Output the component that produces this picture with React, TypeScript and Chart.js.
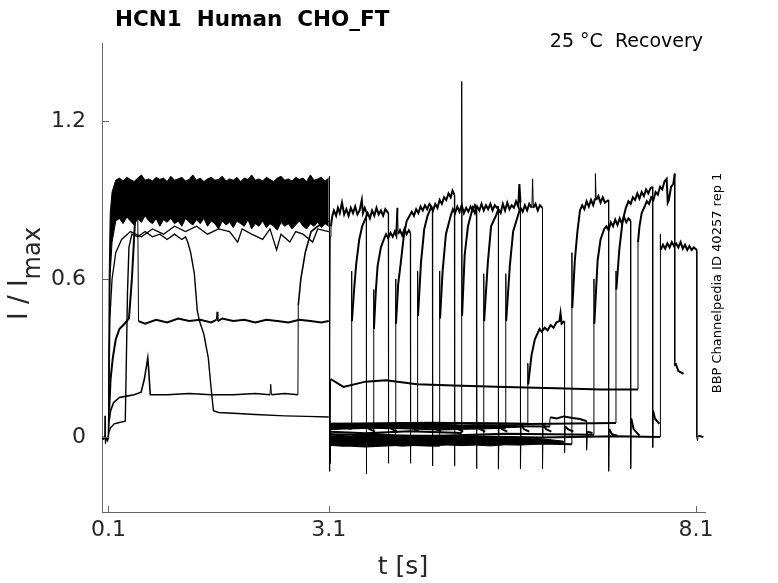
import React, { useEffect, useRef } from 'react';
import { Chart, registerables, ChartConfiguration, Plugin } from 'chart.js';
Chart.register(...registerables);

type Pt = [number, number];
type Edge = [number, number, number];

const xTicks = [0.1, 3.1, 8.1];
const yTicks = [0, 0.6, 1.2];

// holding level before the conditioning step
const holdTrace: Pt[] = [
  [0.015, 0.0], [0.04, -0.01], [0.05, 0.01], [0.055, 0.08], [0.06, -0.025],
  [0.07, 0.0], [0.085, -0.01], [0.1, 0.0],
];

// dense bundle of sweeps during the 3 s step: [t, upper edge, lower edge]
const bandEdges: Edge[] = [
  [0.1, 0.0, 0.0], [0.11, 0.6, 0.3], [0.125, 0.85, 0.62], [0.15, 0.93, 0.74],
  [0.2, 0.975, 0.82], [0.25, 0.983, 0.83], [0.3, 0.972, 0.81], [0.35, 0.986, 0.835],
  [0.4, 0.978, 0.82], [0.45, 0.97, 0.805], [0.5, 0.983, 0.83], [0.55, 0.995, 0.815],
  [0.6, 0.975, 0.84], [0.65, 0.98, 0.82], [0.7, 0.972, 0.81], [0.75, 0.986, 0.83],
  [0.8, 0.978, 0.8], [0.85, 0.983, 0.825], [0.9, 0.97, 0.815], [0.95, 0.99, 0.83],
  [1.0, 0.975, 0.81], [1.05, 0.98, 0.82], [1.1, 0.986, 0.8], [1.15, 0.972, 0.83],
  [1.2, 0.978, 0.815], [1.25, 0.995, 0.805], [1.3, 0.975, 0.825], [1.35, 0.983, 0.81],
  [1.4, 0.97, 0.83], [1.45, 0.98, 0.8], [1.5, 0.986, 0.82], [1.55, 0.975, 0.81],
  [1.6, 0.978, 0.79], [1.65, 0.99, 0.82], [1.7, 0.972, 0.805], [1.75, 0.98, 0.815],
  [1.8, 0.975, 0.795], [1.85, 0.986, 0.82], [1.9, 0.97, 0.81], [1.95, 0.983, 0.8],
  [2.0, 0.978, 0.825], [2.05, 0.995, 0.79], [2.1, 0.975, 0.81], [2.15, 0.98, 0.8],
  [2.2, 0.972, 0.82], [2.25, 0.986, 0.795], [2.3, 0.978, 0.81], [2.35, 0.97, 0.8],
  [2.4, 0.983, 0.785], [2.45, 0.99, 0.815], [2.5, 0.975, 0.8], [2.55, 0.98, 0.81],
  [2.6, 0.972, 0.79], [2.65, 0.986, 0.805], [2.7, 0.978, 0.82], [2.75, 0.983, 0.8],
  [2.8, 0.97, 0.79], [2.85, 0.995, 0.81], [2.9, 0.975, 0.8], [2.95, 0.98, 0.815],
  [3.0, 0.986, 0.795], [3.05, 0.972, 0.81], [3.1, 0.983, 0.8],
];

// dense recovery baselines after the step: two layers [t, upper edge, lower edge]
const recoveryUpper: Edge[] = [
  [3.125, 0.046, 0.031], [3.3, 0.044, 0.033], [3.5, 0.048, 0.032], [3.7, 0.045, 0.034],
  [3.9, 0.047, 0.031], [4.1, 0.044, 0.033], [4.3, 0.048, 0.032], [4.5, 0.045, 0.034],
  [4.7, 0.047, 0.032], [4.9, 0.044, 0.033], [5.1, 0.046, 0.031], [5.3, 0.045, 0.034],
  [5.5, 0.044, 0.035], [5.7, 0.042, 0.037],
];
const recoveryLower: Edge[] = [
  [3.125, 0.004, -0.032], [3.3, 0.001, -0.035], [3.5, 0.005, -0.031], [3.7, 0.0, -0.034],
  [3.9, 0.004, -0.03], [4.1, 0.001, -0.035], [4.3, 0.005, -0.032], [4.5, 0.0, -0.034],
  [4.7, 0.003, -0.03], [4.9, 0.0, -0.033], [5.1, 0.004, -0.031], [5.3, -0.001, -0.034],
  [5.5, 0.002, -0.03], [5.7, -0.002, -0.031], [5.9, -0.005, -0.028], [6.1, -0.01, -0.026],
  [6.3, -0.016, -0.022],
];

const lowEdgeTrace: Pt[] = [
  [0.1, 0.0], [0.12, 0.45], [0.15, 0.6], [0.2, 0.7], [0.28, 0.75], [0.4, 0.78],
  [0.55, 0.76], [0.7, 0.79], [0.85, 0.77], [1.0, 0.8], [1.15, 0.78], [1.3, 0.8],
  [1.45, 0.77], [1.6, 0.79], [1.75, 0.78], [1.86, 0.74], [1.92, 0.79], [2.05, 0.77],
  [2.2, 0.75], [2.3, 0.79], [2.39, 0.71], [2.45, 0.77], [2.57, 0.74], [2.65, 0.78],
  [2.75, 0.77], [2.88, 0.74], [2.95, 0.79], [3.1, 0.78],
];

const slowTrace: Pt[] = [
  [0.1, 0.0], [0.11, 0.1], [0.13, 0.22], [0.16, 0.3], [0.2, 0.37], [0.25, 0.41],
  [0.32, 0.43], [0.38, 0.45], [0.42, 0.6], [0.47, 0.86], [0.5, 0.85], [0.51, 0.44],
  [0.6, 0.43], [0.75, 0.445], [0.9, 0.435], [1.05, 0.45], [1.2, 0.44], [1.35, 0.445],
  [1.5, 0.435], [1.57, 0.445], [1.58, 0.475], [1.59, 0.44], [1.65, 0.45], [1.8, 0.44],
  [1.95, 0.445], [2.1, 0.435], [2.25, 0.445], [2.4, 0.44], [2.55, 0.435], [2.7, 0.445],
  [2.85, 0.44], [3.0, 0.435], [3.1, 0.44],
];

const stepTrace: Pt[] = [
  [0.1, 0.0], [0.11, 0.06], [0.13, 0.1], [0.17, 0.13], [0.25, 0.15], [0.35, 0.155],
  [0.45, 0.16], [0.545, 0.17], [0.59, 0.22], [0.636, 0.3], [0.65, 0.25], [0.67, 0.16],
  [0.9, 0.16], [1.2, 0.165], [1.5, 0.16], [1.8, 0.16], [2.1, 0.165], [2.3, 0.16],
  [2.31, 0.2], [2.32, 0.16], [2.5, 0.165], [2.68, 0.16], [2.685, 0.5], [2.72, 0.6],
  [2.78, 0.7], [2.86, 0.78], [2.95, 0.8], [3.1, 0.82],
];

const decayTrace: Pt[] = [
  [0.1, 0.0], [0.11, 0.02], [0.13, 0.035], [0.18, 0.05], [0.25, 0.055], [0.33, 0.06],
  [0.345, 0.3], [0.36, 0.55], [0.38, 0.72], [0.42, 0.77], [0.5, 0.76], [0.6, 0.78],
  [0.7, 0.76], [0.8, 0.77], [0.9, 0.75], [1.0, 0.77], [1.1, 0.75], [1.15, 0.76],
  [1.18, 0.74], [1.22, 0.7], [1.27, 0.62], [1.31, 0.48], [1.34, 0.44], [1.4, 0.39],
  [1.46, 0.3], [1.5, 0.18], [1.53, 0.1], [1.6, 0.093], [1.8, 0.09], [2.1, 0.085],
  [2.5, 0.08], [2.8, 0.078], [3.1, 0.076],
];

const stepOff: Pt[] = [[3.11, 0.99], [3.11, -0.13]];

// recovery sweeps: recovery baseline, test pulse, tail
const sweep00: Pt[] = [
  [3.11, -0.13], [3.114, 0.35], [3.12, 0.76], [3.13, 0.8], [3.145, 0.835], [3.17, 0.86],
  [3.2, 0.84], [3.225, 0.87], [3.25, 0.85], [3.28, 0.89], [3.31, 0.845], [3.34, 0.865],
  [3.37, 0.84], [3.4, 0.87], [3.43, 0.85], [3.46, 0.875], [3.49, 0.845], [3.52, 0.86],
  [3.55, 0.9], [3.565, 0.85], [3.59, 0.87], [3.61, 0.855],
  [3.61, -0.14], [3.618, 0.05], [3.65, 0.03], [3.73, 0.02],
];
const sweep01: Pt[] = [
  [3.115, -0.1], [3.125, 0.04], [3.2, 0.03], [3.3, 0.038], [3.41, 0.03],
  [3.41, 0.63], [3.415, 0.44], [3.445, 0.56], [3.475, 0.66], [3.515, 0.75], [3.555, 0.8],
  [3.6, 0.83], [3.63, 0.85], [3.66, 0.83], [3.69, 0.86], [3.72, 0.84], [3.75, 0.87],
  [3.78, 0.845], [3.81, 0.86], [3.84, 0.84], [3.87, 0.865], [3.91, 0.85],
  [3.91, -0.1], [3.918, 0.05], [3.955, 0.03], [4.03, 0.02],
];
const sweep02: Pt[] = [
  [3.115, -0.1], [3.125, -0.02], [3.3, -0.026], [3.5, -0.017], [3.71, -0.022],
  [3.71, 0.56], [3.715, 0.41], [3.74, 0.55], [3.765, 0.65], [3.81, 0.72], [3.85, 0.75],
  [3.88, 0.77], [3.91, 0.755], [3.94, 0.775], [3.97, 0.76], [4.0, 0.78], [4.02, 0.765],
  [4.035, 0.87], [4.045, 0.77], [4.07, 0.785], [4.1, 0.765], [4.13, 0.79], [4.16, 0.77],
  [4.19, 0.785], [4.21, 0.775],
  [4.21, -0.1], [4.218, 0.05], [4.255, 0.03], [4.33, 0.02],
];
const sweep03: Pt[] = [
  [3.115, -0.1], [3.125, 0.01], [3.4, 0.0], [3.7, 0.012], [4.01, 0.005],
  [4.01, 0.6], [4.015, 0.43], [4.045, 0.58], [4.08, 0.66], [4.12, 0.76], [4.16, 0.82],
  [4.2, 0.84], [4.23, 0.855], [4.26, 0.84], [4.29, 0.865], [4.32, 0.85], [4.35, 0.875],
  [4.38, 0.86], [4.41, 0.88], [4.44, 0.865], [4.47, 0.885], [4.51, 0.87],
  [4.51, -0.11], [4.518, 0.05], [4.555, 0.03], [4.63, 0.02],
];
const sweep04: Pt[] = [
  [3.115, -0.1], [3.125, 0.045], [3.5, 0.04], [3.9, 0.047], [4.31, 0.04],
  [4.31, 0.63], [4.315, 0.46], [4.355, 0.66], [4.4, 0.79], [4.445, 0.84], [4.49, 0.87],
  [4.52, 0.86], [4.55, 0.885], [4.58, 0.87], [4.61, 0.9], [4.64, 0.885], [4.67, 0.91],
  [4.7, 0.9], [4.73, 0.925], [4.76, 0.91], [4.785, 0.935], [4.81, 0.92],
  [4.81, -0.11], [4.818, 0.05], [4.855, 0.03], [4.93, 0.02],
];
const sweep05: Pt[] = [
  [3.115, -0.1], [3.125, -0.03], [3.6, -0.036], [4.1, -0.03], [4.61, -0.033],
  [4.61, 0.63], [4.615, 0.45], [4.65, 0.63], [4.695, 0.77], [4.76, 0.84], [4.79, 0.865],
  [4.82, 0.85], [4.85, 0.875], [4.88, 0.855], [4.91, 0.88], [4.94, 0.85], [4.97, 0.87],
  [5.0, 0.855], [5.03, 0.875], [5.06, 0.86], [5.09, 0.88], [5.11, 0.865],
  [5.11, -0.12], [5.118, 0.05], [5.155, 0.03], [5.23, 0.02],
];
const sweep06: Pt[] = [
  [3.115, -0.1], [3.125, 0.02], [3.6, 0.014], [4.2, 0.022], [4.91, 0.015],
  [4.91, 1.35], [4.915, 0.46], [4.95, 0.69], [4.995, 0.8], [5.06, 0.87], [5.09, 0.85],
  [5.12, 0.875], [5.15, 0.86], [5.18, 0.885], [5.21, 0.86], [5.24, 0.88], [5.27, 0.865],
  [5.3, 0.885], [5.33, 0.86], [5.36, 0.88], [5.39, 0.87], [5.41, 0.875],
  [5.41, -0.12], [5.418, 0.05], [5.455, 0.03], [5.53, 0.02],
];
const sweep07: Pt[] = [
  [3.115, -0.1], [3.125, -0.01], [3.8, -0.016], [4.5, -0.008], [5.21, -0.012],
  [5.21, 0.62], [5.215, 0.44], [5.265, 0.66], [5.31, 0.8], [5.375, 0.84], [5.41, 0.865],
  [5.44, 0.85], [5.47, 0.885], [5.5, 0.86], [5.53, 0.89], [5.56, 0.865], [5.59, 0.88],
  [5.62, 0.87], [5.65, 0.895], [5.68, 0.875], [5.695, 0.96], [5.71, 0.89],
  [5.71, -0.12], [5.718, 0.05], [5.755, 0.03], [5.83, 0.02],
];
const sweep08: Pt[] = [
  [3.115, -0.1], [3.125, 0.03], [3.8, 0.036], [4.6, 0.028], [5.51, 0.035],
  [5.51, 0.62], [5.515, 0.44], [5.565, 0.65], [5.61, 0.78], [5.675, 0.84], [5.71, 0.87],
  [5.74, 0.855], [5.77, 0.88], [5.8, 0.86], [5.83, 0.885], [5.865, 0.87], [5.875, 0.98],
  [5.885, 0.87], [5.915, 0.885], [5.945, 0.86], [5.975, 0.88], [6.01, 0.87],
  [6.01, -0.12], [6.018, 0.05], [6.055, 0.03], [6.13, 0.02],
];
const sweep09: Pt[] = [
  [3.115, -0.1], [3.125, 0.05], [4.0, 0.044], [5.0, 0.052], [5.81, 0.05],
  [5.81, 0.28], [5.815, 0.2], [5.86, 0.31], [5.905, 0.37], [5.97, 0.41], [6.0, 0.4],
  [6.04, 0.415], [6.08, 0.405], [6.12, 0.425], [6.16, 0.415], [6.2, 0.435], [6.24, 0.44],
  [6.255, 0.47], [6.27, 0.43], [6.31, 0.44],
  [6.31, -0.06], [6.318, 0.04], [6.355, 0.03], [6.43, 0.02],
];
const sweep10: Pt[] = [
  [3.115, -0.1], [3.125, 0.04], [4.2, 0.035], [5.2, 0.042], [6.11, 0.04],
  [6.11, 0.06], [6.115, 0.075], [6.2, 0.07], [6.3, 0.078], [6.42, 0.072], [6.52, 0.068],
  [6.61, 0.06],
  [6.61, -0.05], [6.62, 0.02], [6.69, 0.015],
];
const sweep11: Pt[] = [
  [3.115, -0.1], [3.125, -0.025], [4.5, -0.03], [5.5, -0.022], [6.41, -0.028],
  [6.41, 0.7], [6.415, 0.49], [6.45, 0.67], [6.485, 0.78], [6.52, 0.86], [6.55, 0.88],
  [6.58, 0.865], [6.61, 0.895], [6.64, 0.875], [6.67, 0.9], [6.7, 0.88], [6.725, 0.905],
  [6.73, 1.0], [6.74, 0.9], [6.77, 0.915], [6.8, 0.89], [6.83, 0.91], [6.86, 0.89],
  [6.91, 0.9],
  [6.91, -0.13], [6.918, 0.03], [6.955, 0.01], [7.03, 0.005],
];
const sweep12: Pt[] = [
  [3.115, -0.1], [3.125, 0.01], [4.5, 0.004], [5.5, 0.012], [6.71, 0.008],
  [6.71, 0.6], [6.715, 0.43], [6.76, 0.67], [6.8, 0.75], [6.85, 0.79], [6.88, 0.8],
  [6.91, 0.785], [6.94, 0.815], [6.97, 0.8], [7.0, 0.825], [7.03, 0.805], [7.06, 0.83],
  [7.09, 0.81], [7.12, 0.835], [7.15, 0.815], [7.18, 0.83], [7.21, 0.82],
  [7.21, -0.12], [7.218, 0.07], [7.25, 0.03], [7.33, 0.005],
];
const sweep13: Pt[] = [
  [3.115, -0.1], [3.125, 0.05], [4.5, 0.054], [5.8, 0.049], [7.01, 0.053],
  [7.01, 0.63], [7.015, 0.56], [7.055, 0.71], [7.1, 0.82], [7.145, 0.87], [7.18, 0.895],
  [7.21, 0.885], [7.24, 0.91], [7.27, 0.9], [7.3, 0.925], [7.33, 0.905], [7.36, 0.93],
  [7.39, 0.915], [7.42, 0.94], [7.45, 0.925], [7.48, 0.945], [7.51, 0.95],
  [7.51, -0.04], [7.515, 0.1], [7.54, 0.07], [7.6, 0.05],
];
const sweep14: Pt[] = [
  [3.115, -0.1], [3.125, 0.22], [3.3, 0.19], [3.6, 0.21], [3.88, 0.215], [4.3, 0.2],
  [4.8, 0.195], [5.5, 0.19], [6.2, 0.185], [6.8, 0.18], [7.31, 0.18],
  [7.31, 0.74], [7.33, 0.8], [7.36, 0.85], [7.4, 0.875], [7.43, 0.895], [7.46, 0.885],
  [7.49, 0.91], [7.52, 0.9], [7.55, 0.93], [7.58, 0.92], [7.61, 0.95], [7.64, 0.94],
  [7.67, 0.97], [7.7, 0.98], [7.715, 0.89], [7.73, 0.9], [7.76, 0.95], [7.79, 0.96],
  [7.81, 1.0],
  [7.81, 0.27], [7.82, 0.28], [7.86, 0.25], [7.93, 0.24],
];
const sweep15: Pt[] = [
  [3.115, -0.1], [3.125, 0.0], [4.5, 0.005], [6.0, -0.002], [7.0, 0.003], [7.61, 0.0],
  [7.61, 0.77], [7.62, 0.71], [7.65, 0.73], [7.68, 0.715], [7.71, 0.735], [7.74, 0.72],
  [7.77, 0.74], [7.8, 0.725], [7.83, 0.735], [7.86, 0.72], [7.89, 0.74], [7.92, 0.715],
  [7.95, 0.73], [7.98, 0.71], [8.01, 0.725], [8.04, 0.71], [8.07, 0.72], [8.11, 0.71],
  [8.11, 0.0], [8.12, -0.015], [8.13, 0.005], [8.2, 0.0],
];

const sweeps = [
  sweep00, sweep01, sweep02, sweep03, sweep04, sweep05, sweep06, sweep07,
  sweep08, sweep09, sweep10, sweep11, sweep12, sweep13, sweep14, sweep15,
];

const axisColor = '#666666';
const textColor = '#262626';
const font = '"DejaVu Sans", "Noto Sans", sans-serif';

const toXY = (pts: Pt[]) => pts.map(([x, y]) => ({ x, y }));
// noisy stretches drawn heavier, the fast vertical jumps stay thin
const trace = (pts: Pt[], width = 1) => ({
  data: toXY(pts),
  borderColor: '#000',
  borderWidth: 1,
  pointRadius: 0,
  fill: false,
  tension: 0,
  segment: {
    borderWidth: (c: any) => (Math.abs(c.p1.x - c.p0.x) < 1 ? 1 : width),
  },
});
// filled black envelope between two edges
const envelope = (rows: Edge[]) => [
  {
    data: rows.map(([x, hi]) => ({ x, y: hi })),
    borderColor: '#000',
    borderWidth: 1,
    pointRadius: 0,
    tension: 0,
    backgroundColor: '#000',
    fill: '+1',
  },
  trace(rows.map(([t, , lo]) => [t, lo] as Pt)),
];

const decorations: Plugin = {
  id: 'decorations',
  afterDraw(chart) {
    const { ctx, chartArea, scales } = chart;
    const xs = scales.x;
    const ys = scales.y;
    ctx.save();
    ctx.strokeStyle = axisColor;
    ctx.lineWidth = 1;
    ctx.beginPath();
    xTicks.forEach((v) => {
      const px = Math.round(xs.getPixelForValue(v)) + 0.5;
      ctx.moveTo(px, chartArea.bottom);
      ctx.lineTo(px, chartArea.bottom - 6);
    });
    yTicks.forEach((v) => {
      const py = Math.round(ys.getPixelForValue(v)) + 0.5;
      ctx.moveTo(chartArea.left, py);
      ctx.lineTo(chartArea.left + 7, py);
    });
    ctx.stroke();

    ctx.fillStyle = '#000';
    ctx.textBaseline = 'alphabetic';
    ctx.textAlign = 'left';
    ctx.font = `bold 21.5px ${font}`;
    ctx.fillText('HCN1  Human  CHO_FT', 115, 26);

    ctx.font = `19px ${font}`;
    ctx.textAlign = 'right';
    ctx.fillText('25 °C  Recovery', 703, 47);

    ctx.fillStyle = textColor;
    ctx.font = `25px ${font}`;
    ctx.textAlign = 'center';
    ctx.textBaseline = 'middle';
    ctx.fillText('t [s]', 403, 567);

    // y label with subscript
    ctx.save();
    ctx.translate(27, 320);
    ctx.rotate(-Math.PI / 2);
    ctx.textAlign = 'left';
    ctx.textBaseline = 'alphabetic';
    ctx.font = `26px ${font}`;
    const mainW = ctx.measureText('I / I').width;
    ctx.fillText('I / I', 0, 0);
    ctx.font = `24px ${font}`;
    ctx.fillText('max', mainW, 13);
    ctx.restore();

    // id note on the right
    ctx.save();
    ctx.translate(721, 283);
    ctx.rotate(-Math.PI / 2);
    ctx.fillStyle = '#000';
    ctx.textAlign = 'center';
    ctx.textBaseline = 'alphabetic';
    ctx.font = `13px ${font}`;
    ctx.fillText('BBP Channelpedia ID 40257 rep 1', 0, 0);
    ctx.restore();

    ctx.restore();
  },
};

const config: ChartConfiguration = {
  type: 'line',
  data: {
    datasets: [
      ...envelope(bandEdges),
      ...envelope(recoveryUpper),
      ...envelope(recoveryLower),
      trace(holdTrace, 2.5),
      trace(lowEdgeTrace, 1.3),
      trace(slowTrace, 2),
      trace(stepTrace, 1.6),
      trace(decayTrace, 1.4),
      trace(stepOff),
      ...sweeps.map((s) => trace(s, 2)),
    ] as any,
  },
  options: {
    responsive: false,
    devicePixelRatio: 1,
    animation: false,
    events: [],
    layout: { padding: { top: 43, right: 73, bottom: 0, left: 0 } },
    plugins: { legend: { display: false }, tooltip: { enabled: false }, title: { display: false } },
    scales: {
      x: {
        type: 'linear',
        min: 0.013,
        max: 8.222,
        afterBuildTicks: (s: any) => {
          s.ticks = xTicks.map((value) => ({ value }));
        },
        afterFit: (s: any) => {
          s.height = 71;
        },
        grid: { display: false, drawTicks: false },
        border: { display: true, color: axisColor, width: 1 },
        ticks: {
          color: textColor,
          font: { family: font, size: 22 },
          padding: 5,
          maxRotation: 0,
          autoSkip: false,
          callback: (v: any) => String(v),
        },
      },
      y: {
        type: 'linear',
        min: -0.285,
        max: 1.496,
        afterBuildTicks: (s: any) => {
          s.ticks = yTicks.map((value) => ({ value }));
        },
        afterFit: (s: any) => {
          s.width = 102;
        },
        grid: { display: false, drawTicks: false },
        border: { display: true, color: axisColor, width: 1 },
        ticks: {
          color: textColor,
          font: { family: font, size: 22 },
          padding: 16,
          autoSkip: false,
          callback: (v: any) => String(v),
        },
      },
    },
  },
  plugins: [decorations],
};

const App: React.FC = () => {
  const canvasRef = useRef<HTMLCanvasElement>(null);
  const chartRef = useRef<Chart | null>(null);

  useEffect(() => {
    if (!canvasRef.current) return;
    const ctx = canvasRef.current.getContext('2d');
    if (!ctx) return;
    if (chartRef.current) {
      chartRef.current.destroy();
    }
    chartRef.current = new Chart(ctx, config);
    return () => {
      if (chartRef.current) {
        chartRef.current.destroy();
        chartRef.current = null;
      }
    };
  }, []);

  return (
    <div style={{ position: 'absolute', left: 0, top: 0, width: 778, height: 583 }}>
      <canvas ref={canvasRef} width={778} height={583} style={{ width: 778, height: 583 }}></canvas>
    </div>
  );
};

export default App;
